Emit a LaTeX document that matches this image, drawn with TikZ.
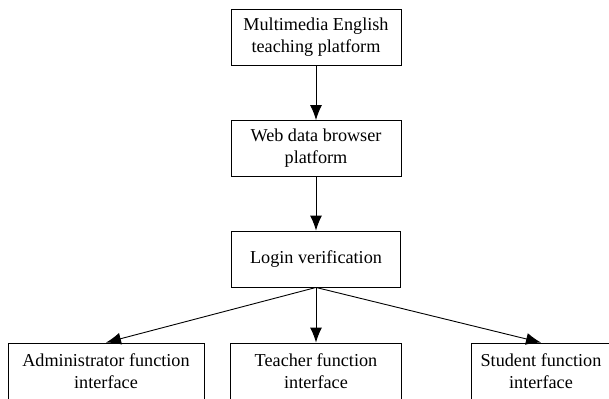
\documentclass[tikz,border=0pt]{standalone}
\usepackage{fontspec}
\setmainfont{Liberation Serif}
\usetikzlibrary{arrows.meta}
\begin{document}
\begin{tikzpicture}[x=1pt,y=-1pt,
    box/.style={draw,line width=0.9pt,inner sep=0pt,minimum height=56pt,
        align=center,font=\fontsize{18.2}{22}\selectfont},
    flow/.style={line width=0.9pt,-{Latex[length=15pt,width=12pt]}}]
                \useasboundingbox (0,0) rectangle (609,398) ;
                \node [box,minimum width=170pt] (platform) at (316,37) {Multimedia English\\teaching platform} ;
                \node [box,minimum width=170pt] (browser) at (316,148.5) {Web data browser\\platform} ;
                \node [box,minimum width=169pt] (login) at (316,259) {Login verification} ;
                \node [box,minimum width=196pt] (admin) at (106,371) {Administrator function\\interface} ;
                \node [box,minimum width=171pt] (teacher) at (316,371) {Teacher function\\interface} ;
                \node [box,minimum width=140pt] (student) at (541,371) {Student function\\interface} ;
                \draw [flow] (platform) -- (browser) ;
                \draw [flow] (browser) -- (login) ;
                \draw [flow] (login.south) -- (admin.north) ;
                \draw [flow] (login.south) -- (teacher.north) ;
                \draw [flow] (login.south) -- (student.north) ;
            \end{tikzpicture}
\end{document}
